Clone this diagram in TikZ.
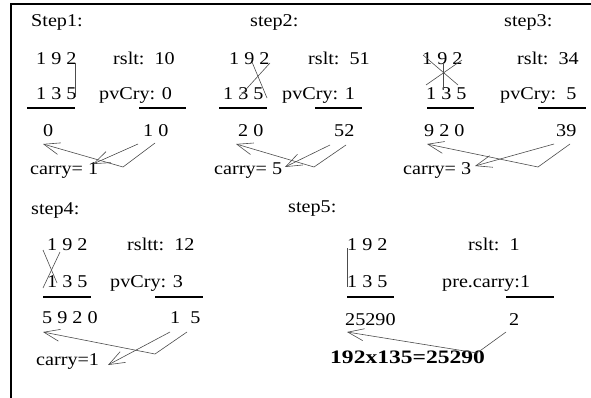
\documentclass[tikz,border=0pt]{standalone}
\usepackage{fontspec}
\setmainfont[FakeStretch=1.12]{Liberation Serif}
\newfontfamily\eqfont[FakeStretch=1.24]{Liberation Serif}
\usetikzlibrary{arrows.meta}
\begin{document}
\begin{tikzpicture}[x=1pt,y=-1pt,
  txt/.style={anchor=base west, inner sep=0pt, font=\fontsize{18}{20}\selectfont},
  eqtxt/.style={anchor=base west, inner sep=0pt, font=\eqfont\bfseries\fontsize{19}{21}\selectfont},
  uline/.style={line width=1.3pt},
  frame/.style={line width=1.5pt},
  link/.style={gray!60!black, line width=0.6pt},
  arr/.style={gray!60!black, line width=0.6pt, -{Straight Barb[length=16pt,width=12pt,line width=0.6pt]}}]
\useasboundingbox (0,0) rectangle (591,398);
\draw[frame] (11,398) -- (11,4) -- (591,4);

% ---- step 1
\node[txt] (s1) at (31,27) {Step1:};
\node[txt] (s1a) at (36,65) {1 9 2};
\node[txt] (s1r) at (113,65) {rslt:\ \ 10};
\node[txt] (s1b) at (36,100) {1 3 5};
\node[txt] (s1p) at (99,100) {pvCry: 0};
\node[txt] (s1l) at (43,137) {0};
\node[txt] (s1d) at (143,137) {1 0};
\node[txt] (s1c) at (30,175) {carry= 1};
\draw[uline] (27,108) -- (75,108);
\draw[uline] (139,108) -- (186,108);
\draw[link] (75,63) -- (75,97);
\coordinate (s1x1) at (138,144); \coordinate (s1t1) at (93,164);
\coordinate (s1x2) at (155,143); \coordinate (s1k2) at (123,167); \coordinate (s1t2) at (43,144);
\draw[arr] (s1x1) -- (s1t1);
\draw[arr] (s1x2) -- (s1k2) -- (s1t2);

% ---- step 2
\node[txt] (s2) at (250,27) {step2:};
\node[txt] (s2a) at (229,65) {1 9 2};
\node[txt] (s2r) at (308,65) {rslt:\ \ 51};
\node[txt] (s2b) at (223,100) {1 3 5};
\node[txt] (s2p) at (282,100) {pvCry: 1};
\node[txt] (s2l) at (238,137) {2 0};
\node[txt] (s2d) at (334,137) {52};
\node[txt] (s2c) at (214,175) {carry= 5};
\draw[uline] (219,108) -- (267,108);
\draw[uline] (315,108) -- (362,108);
\draw[link] (252,62) -- (267,98);
\draw[link] (270,63) -- (239,97);
\coordinate (s2x1) at (330,145); \coordinate (s2t1) at (285,167);
\coordinate (s2x2) at (346,145); \coordinate (s2k2) at (314,167); \coordinate (s2t2) at (236,144);
\draw[arr] (s2x1) -- (s2t1);
\draw[arr] (s2x2) -- (s2k2) -- (s2t2);

% ---- step 3
\node[txt] (s3) at (504,27) {step3:};
\node[txt] (s3a) at (422,65) {1 9 2};
\node[txt] (s3r) at (517,65) {rslt:\ \ 34};
\node[txt] (s3b) at (426,100) {1 3 5};
\node[txt] (s3p) at (500,100) {pvCry:\ \ 5};
\node[txt] (s3l) at (424,137) {9 2 0};
\node[txt] (s3d) at (556,137) {39};
\node[txt] (s3c) at (403,175) {carry= 3};
\draw[uline] (427,108) -- (474,108);
\draw[uline] (538,108) -- (586,108);
\draw[link] (423,55) -- (458,85);
\draw[link] (462,60) -- (426,85);
\draw[link] (443,62) -- (443,90);
\coordinate (s3x1) at (554,144); \coordinate (s3t1) at (475,166);
\coordinate (s3x2) at (570,144); \coordinate (s3k2) at (538,167); \coordinate (s3t2) at (427,144);
\draw[arr] (s3x1) -- (s3t1);
\draw[arr] (s3x2) -- (s3k2) -- (s3t2);

% ---- step 4
\node[txt] (s4) at (31,214) {step4:};
\node[txt] (s4a) at (47,250) {1 9 2};
\node[txt] (s4r) at (127,250) {rsltt:\ \ 12};
\node[txt] (s4b) at (47,287) {1 3 5};
\node[txt] (s4p) at (110,287) {pvCry: 3};
\node[txt] (s4l) at (42,323) {5 9 2 0};
\node[txt] (s4d) at (170,323) {1\ \ 5};
\node[txt] (s4c) at (36,365) {carry=1};
\draw[uline] (43,297) -- (91,297);
\draw[uline] (155,297) -- (203,297);
\draw[link] (60,252) -- (43,288);
\draw[link] (43,250) -- (57,283);
\coordinate (s4x1) at (170,332); \coordinate (s4t1) at (108,365);
\coordinate (s4x2) at (187,332); \coordinate (s4k2) at (155,354); \coordinate (s4t2) at (43,332);
\draw[arr] (s4x1) -- (s4t1);
\draw[arr] (s4x2) -- (s4k2) -- (s4t2);

% ---- step 5
\node[txt] (s5) at (288,212) {step5:};
\node[txt] (s5a) at (347,250) {1 9 2};
\node[txt] (s5r) at (468,250) {rslt:\ \ 1};
\node[txt] (s5b) at (347,287) {1 3 5};
\node[txt] (s5p) at (442,287) {pre.carry:1};
\node[txt] (s5l) at (345,325) {25290};
\node[txt] (s5d) at (509,325) {2};
\node[eqtxt] (s5e) at (330,363) {192x135=25290};
\draw[uline] (347,297) -- (394,297);
\draw[uline] (506,297) -- (554,297);
\draw[link] (347,248) -- (347,287);
\coordinate (s5x2) at (506,332); \coordinate (s5k2) at (477,353); \coordinate (s5t2) at (347,332);
\draw[arr] (s5x2) -- (s5k2) -- (s5t2);
\end{tikzpicture}
\end{document}
